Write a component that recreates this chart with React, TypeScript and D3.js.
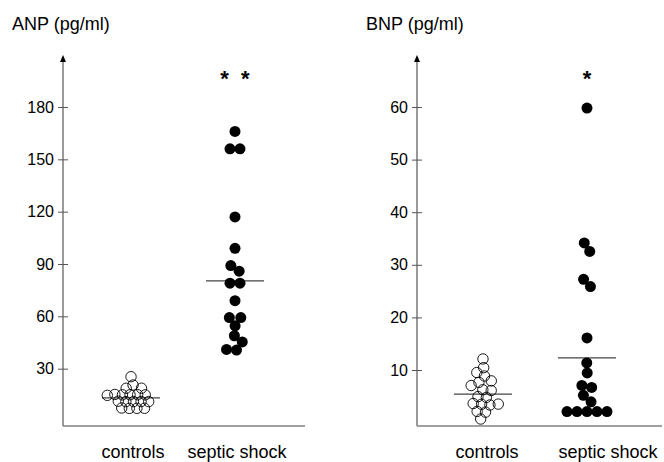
import * as d3 from "d3";
import { useEffect, useRef } from "react";

const categories = ["controls", "septic shock"];

// ANP (pg/ml)
const anpControls = [25.4, 20.6, 17.8, 17.6, 15.2, 15, 14.8, 15.1, 14.6, 15.3, 11.6, 11.4, 11.5, 11.2, 11.8, 7.6, 7.4, 7.5, 7.3];
const anpSeptic = [166, 156, 156, 117, 99, 89, 86, 79, 79, 69, 59, 59, 55, 49, 45, 41, 41];
const anpMeans = [13.2, 80.3];
const anpTicks = [30, 60, 90, 120, 150, 180];
const anpStars = "*  *";

// BNP (pg/ml)
const bnpControls = [12.1, 10.4, 9.5, 8.8, 8.0, 7.4, 7.1, 6.2, 6.0, 4.9, 4.7, 3.7, 3.7, 3.5, 3.5, 2.1, 2.0, 0.8];
const bnpSeptic = [59.8, 34.1, 32.6, 27.2, 25.9, 16.1, 11.3, 9.5, 7.0, 6.7, 5.2, 4.0, 2.1, 2.1, 2.1, 2.1, 2.1];
const bnpMeans = [5.4, 12.3];
const bnpTicks = [10, 20, 30, 40, 50, 60];
const bnpStars = "*";

const FONT = "'Liberation Sans', Arial, sans-serif";

type Node = { v: number; x: number; y: number };

// simple deterministic beeswarm with d3-force
function swarm(values: number[], y: d3.ScaleLinear<number, number>, cx: number, r: number): Node[] {
  const nodes: Node[] = values.map((v, i) => ({ v, x: cx + ((i % 5) - 2) * 0.6, y: y(v) }));
  const sim = d3
    .forceSimulation(nodes as any)
    .force("x", d3.forceX(cx).strength(0.06))
    .force("y", d3.forceY((d: any) => y(d.v)).strength(1))
    .force("c", d3.forceCollide(r).iterations(3))
    .stop();
  for (let i = 0; i < 300; i++) sim.tick();
  return nodes;
}

function drawPanel(
  svg: d3.Selection<SVGSVGElement, unknown, null, undefined>,
  opts: {
    title: string;
    controls: number[];
    septic: number[];
    means: number[];
    ticks: number[];
    max: number;
    stars: string;
    left: number;
    right: number;
    zeroY: number;
    colRange: [number, number];
    labelRange: [number, number];
    collide: [number, number];
  }
) {
  const g = svg.append("g");
  const bottom = 426;
  const top = 55;

  const yScale = d3.scaleLinear().domain([0, opts.max]).range([opts.zeroY, 107]);
  const xCol = d3.scalePoint<string>().domain(categories).range(opts.colRange);
  const xLab = d3.scalePoint<string>().domain(categories).range(opts.labelRange);

  // title
  g.append("text")
    .attr("x", opts.left - 51)
    .attr("y", 30)
    .attr("font-family", FONT)
    .attr("font-size", 18)
    .text(opts.title);

  // axes lines
  g.append("line")
    .attr("x1", opts.left).attr("x2", opts.left)
    .attr("y1", bottom).attr("y2", top + 5)
    .attr("stroke", "#808080").attr("stroke-width", 1.6);
  g.append("line")
    .attr("x1", opts.left).attr("x2", opts.right)
    .attr("y1", bottom).attr("y2", bottom)
    .attr("stroke", "#808080").attr("stroke-width", 1.6);
  g.append("path")
    .attr("d", `M${opts.left},${top} L${opts.left - 3},${top + 7} L${opts.left + 3},${top + 7} Z`)
    .attr("fill", "#000");

  const yAxis = d3.axisLeft(yScale).tickValues(opts.ticks).tickSize(5).tickPadding(4);
  const ax = g.append("g").attr("transform", `translate(${opts.left},0)`).call(yAxis);
  ax.select(".domain").remove();
  ax.selectAll(".tick line").attr("x1", -5).attr("x2", 5).attr("stroke", "#555");
  ax.selectAll(".tick text")
    .attr("font-family", FONT)
    .attr("font-size", 16)
    .attr("fill", "#000");

  // category labels
  g.selectAll(".cat")
    .data(categories)
    .join("text")
    .attr("class", "cat")
    .attr("x", (d) => xLab(d)!)
    .attr("y", 458)
    .attr("text-anchor", "middle")
    .attr("font-family", FONT)
    .attr("font-size", 18)
    .text((d) => d);

  // mean lines
  g.selectAll(".mean")
    .data(opts.means)
    .join("line")
    .attr("class", "mean")
    .attr("x1", (d, i) => xCol(categories[i])! - 29)
    .attr("x2", (d, i) => xCol(categories[i])! + 29)
    .attr("y1", (d) => yScale(d))
    .attr("y2", (d) => yScale(d))
    .attr("stroke", "#444")
    .attr("stroke-width", 1.2);

  // controls (open circles)
  const cNodes = swarm(opts.controls, yScale, xCol(categories[0])!, opts.collide[0]);
  g.selectAll(".ctl")
    .data(cNodes)
    .join("circle")
    .attr("class", "ctl")
    .attr("cx", (d) => d.x)
    .attr("cy", (d) => d.y)
    .attr("r", 5.2)
    .attr("fill", "none")
    .attr("stroke", "#000")
    .attr("stroke-width", 0.9);

  // septic shock (filled)
  const sNodes = swarm(opts.septic, yScale, xCol(categories[1])!, opts.collide[1]);
  g.selectAll(".sep")
    .data(sNodes)
    .join("circle")
    .attr("class", "sep")
    .attr("cx", (d) => d.x)
    .attr("cy", (d) => d.y)
    .attr("r", 5.5)
    .attr("fill", "#000");

  // significance stars
  g.append("text")
    .attr("x", xCol(categories[1])!)
    .attr("y", 86)
    .attr("text-anchor", "middle")
    .attr("font-family", FONT)
    .attr("font-weight", "bold")
    .attr("font-size", 22)
    .attr("xml:space", "preserve")
    .style("white-space", "pre")
    .text(opts.stars);
}

export default function App() {
  const svgRef = useRef<SVGSVGElement>(null);

  useEffect(() => {
    const svg = d3.select(svgRef.current!);
    svg.selectAll("*").remove();

    drawPanel(svg, {
      title: "ANP (pg/ml)",
      controls: anpControls,
      septic: anpSeptic,
      means: anpMeans,
      ticks: anpTicks,
      max: 180,
      stars: anpStars,
      left: 63,
      right: 305,
      zeroY: 421,
      colRange: [131, 235],
      labelRange: [133, 237],
      collide: [3.8, 5],
    });

    drawPanel(svg, {
      title: "BNP (pg/ml)",
      controls: bnpControls,
      septic: bnpSeptic,
      means: bnpMeans,
      ticks: bnpTicks,
      max: 60,
      stars: bnpStars,
      left: 417,
      right: 662,
      zeroY: 422.6,
      colRange: [483, 587],
      labelRange: [487, 608],
      collide: [4.2, 5],
    });
  }, []);

  return (
    <svg
      ref={svgRef}
      width={664}
      height={462}
      style={{ position: "absolute", left: 0, top: 0, background: "#fff" }}
    />
  );
}
